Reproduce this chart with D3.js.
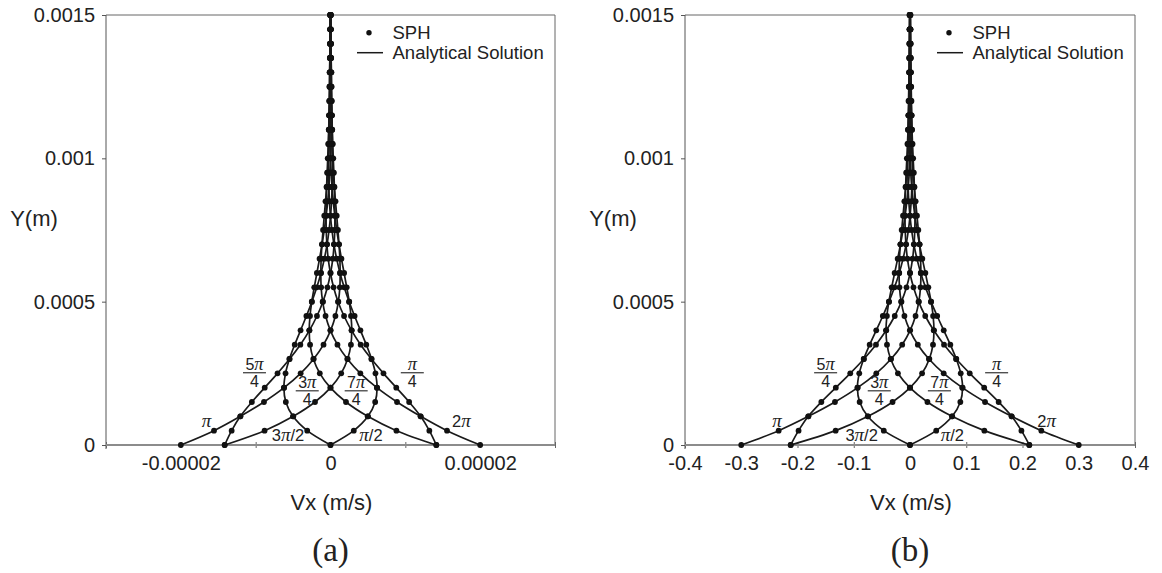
<!DOCTYPE html>
<html><head><meta charset="utf-8">
<script src="https://cdn.jsdelivr.net/npm/d3@7"></script>
<style>body{margin:0;background:#fff}svg{display:block}</style>
</head><body>
<script>
// ---------- DATA ----------
// wall-normal positions of the SPH particles (m)
const yValues = [0,0.00005,0.0001,0.00015,0.0002,0.00025,0.0003,0.00035,0.0004,0.00045,0.0005,0.00055,0.0006,0.00065,0.0007,0.00075,0.0008,0.00085,0.0009,0.00095,0.001,0.00105,0.0011,0.00115,0.0012,0.00125,0.0013,0.00135,0.0014,0.00145,0.0015];

const phaseNames = ["π/4","π/2","3π/4","π","5π/4","3π/2","7π/4","2π"];

// panel (b) Vx (m/s)
const vxB_pi4  = [0.2121,0.1981,0.1808,0.1576,0.1319,0.1062,0.0820,0.0605,0.0422,0.0271,0.0152,0.0062,-0.0002,-0.0046,-0.0072,-0.0085,-0.0089,-0.0085,-0.0078,-0.0068,-0.0056,-0.0045,-0.0035,-0.0026,-0.0018,-0.0011,-0.0006,-0.0003,0.0000,0.0002,0.0003];
const vxB_pi2  = [0,0.0466,0.0751,0.0895,0.0935,0.0902,0.0823,0.0717,0.0600,0.0483,0.0373,0.0275,0.0191,0.0123,0.0069,0.0028,-0.0001,-0.0021,-0.0033,-0.0039,-0.0040,-0.0039,-0.0035,-0.0031,-0.0026,-0.0021,-0.0016,-0.0012,-0.0008,-0.0005,-0.0003];
const vxB_3pi4 = [-0.2121,-0.1322,-0.0746,-0.0310,0.0003,0.0215,0.0344,0.0409,0.0426,0.0411,0.0375,0.0326,0.0273,0.0219,0.0169,0.0125,0.0087,0.0056,0.0031,0.0013,-0.0001,-0.0010,-0.0015,-0.0018,-0.0018,-0.0018,-0.0016,-0.0014,-0.0012,-0.0009,-0.0007];
const vxB_pi   = [-0.3,-0.2335,-0.1806,-0.1334,-0.0930,-0.0599,-0.0337,-0.0139,0.0003,0.0099,0.0157,0.0187,0.0194,0.0187,0.0171,0.0148,0.0124,0.0100,0.0077,0.0057,0.0039,0.0025,0.0014,0.0006,0.0000,-0.0004,-0.0007,-0.0008,-0.0008,-0.0008,-0.0007];
const vxB_5pi4 = [-0.2121,-0.1981,-0.1808,-0.1576,-0.1319,-0.1062,-0.0820,-0.0605,-0.0422,-0.0271,-0.0152,-0.0062,0.0002,0.0046,0.0072,0.0085,0.0089,0.0085,0.0078,0.0068,0.0056,0.0045,0.0035,0.0026,0.0018,0.0011,0.0006,0.0003,0.0000,-0.0002,-0.0003];
const vxB_3pi2 = [0,-0.0466,-0.0751,-0.0895,-0.0935,-0.0902,-0.0823,-0.0717,-0.0600,-0.0483,-0.0373,-0.0275,-0.0191,-0.0123,-0.0069,-0.0028,0.0001,0.0021,0.0033,0.0039,0.0040,0.0039,0.0035,0.0031,0.0026,0.0021,0.0016,0.0012,0.0008,0.0005,0.0003];
const vxB_7pi4 = [0.2121,0.1322,0.0746,0.0310,-0.0003,-0.0215,-0.0344,-0.0409,-0.0426,-0.0411,-0.0375,-0.0326,-0.0273,-0.0219,-0.0169,-0.0125,-0.0087,-0.0056,-0.0031,-0.0013,0.0001,0.0010,0.0015,0.0018,0.0018,0.0018,0.0016,0.0014,0.0012,0.0009,0.0007];
const vxB_2pi  = [0.3,0.2335,0.1806,0.1334,0.0930,0.0599,0.0337,0.0139,-0.0003,-0.0099,-0.0157,-0.0187,-0.0194,-0.0187,-0.0171,-0.0148,-0.0124,-0.0100,-0.0077,-0.0057,-0.0039,-0.0025,-0.0014,-0.0006,0.0000,0.0004,0.0007,0.0008,0.0008,0.0008,0.0007];

// panel (a) Vx (m/s)
const vxA_pi4  = [14.14e-6,13.21e-6,12.05e-6,10.51e-6,8.79e-6,7.08e-6,5.47e-6,4.03e-6,2.81e-6,1.81e-6,1.01e-6,0.41e-6,-0.01e-6,-0.31e-6,-0.48e-6,-0.57e-6,-0.59e-6,-0.57e-6,-0.52e-6,-0.45e-6,-0.37e-6,-0.30e-6,-0.23e-6,-0.17e-6,-0.12e-6,-0.07e-6,-0.04e-6,-0.02e-6,0,0.01e-6,0.02e-6];
const vxA_pi2  = [0,3.11e-6,5.01e-6,5.97e-6,6.23e-6,6.01e-6,5.49e-6,4.78e-6,4.00e-6,3.22e-6,2.49e-6,1.83e-6,1.27e-6,0.82e-6,0.46e-6,0.19e-6,-0.01e-6,-0.14e-6,-0.22e-6,-0.26e-6,-0.27e-6,-0.26e-6,-0.23e-6,-0.21e-6,-0.17e-6,-0.14e-6,-0.11e-6,-0.08e-6,-0.05e-6,-0.03e-6,-0.02e-6];
const vxA_3pi4 = [-14.14e-6,-8.81e-6,-4.97e-6,-2.07e-6,0.02e-6,1.43e-6,2.29e-6,2.73e-6,2.84e-6,2.74e-6,2.50e-6,2.17e-6,1.82e-6,1.46e-6,1.13e-6,0.83e-6,0.58e-6,0.37e-6,0.21e-6,0.09e-6,-0.01e-6,-0.07e-6,-0.10e-6,-0.12e-6,-0.12e-6,-0.12e-6,-0.11e-6,-0.09e-6,-0.08e-6,-0.06e-6,-0.05e-6];
const vxA_pi   = [-20.00e-6,-15.57e-6,-12.04e-6,-8.89e-6,-6.20e-6,-3.99e-6,-2.25e-6,-0.93e-6,0.02e-6,0.66e-6,1.05e-6,1.25e-6,1.29e-6,1.25e-6,1.14e-6,0.99e-6,0.83e-6,0.67e-6,0.51e-6,0.38e-6,0.26e-6,0.17e-6,0.09e-6,0.04e-6,0,-0.03e-6,-0.05e-6,-0.05e-6,-0.05e-6,-0.05e-6,-0.05e-6];
const vxA_5pi4 = [-14.14e-6,-13.21e-6,-12.05e-6,-10.51e-6,-8.79e-6,-7.08e-6,-5.47e-6,-4.03e-6,-2.81e-6,-1.81e-6,-1.01e-6,-0.41e-6,0.01e-6,0.31e-6,0.48e-6,0.57e-6,0.59e-6,0.57e-6,0.52e-6,0.45e-6,0.37e-6,0.30e-6,0.23e-6,0.17e-6,0.12e-6,0.07e-6,0.04e-6,0.02e-6,0,-0.01e-6,-0.02e-6];
const vxA_3pi2 = [0,-3.11e-6,-5.01e-6,-5.97e-6,-6.23e-6,-6.01e-6,-5.49e-6,-4.78e-6,-4.00e-6,-3.22e-6,-2.49e-6,-1.83e-6,-1.27e-6,-0.82e-6,-0.46e-6,-0.19e-6,0.01e-6,0.14e-6,0.22e-6,0.26e-6,0.27e-6,0.26e-6,0.23e-6,0.21e-6,0.17e-6,0.14e-6,0.11e-6,0.08e-6,0.05e-6,0.03e-6,0.02e-6];
const vxA_7pi4 = [14.14e-6,8.81e-6,4.97e-6,2.07e-6,-0.02e-6,-1.43e-6,-2.29e-6,-2.73e-6,-2.84e-6,-2.74e-6,-2.50e-6,-2.17e-6,-1.82e-6,-1.46e-6,-1.13e-6,-0.83e-6,-0.58e-6,-0.37e-6,-0.21e-6,-0.09e-6,0.01e-6,0.07e-6,0.10e-6,0.12e-6,0.12e-6,0.12e-6,0.11e-6,0.09e-6,0.08e-6,0.06e-6,0.05e-6];
const vxA_2pi  = [20.00e-6,15.57e-6,12.04e-6,8.89e-6,6.20e-6,3.99e-6,2.25e-6,0.93e-6,-0.02e-6,-0.66e-6,-1.05e-6,-1.25e-6,-1.29e-6,-1.25e-6,-1.14e-6,-0.99e-6,-0.83e-6,-0.67e-6,-0.51e-6,-0.38e-6,-0.26e-6,-0.17e-6,-0.09e-6,-0.04e-6,0,0.03e-6,0.05e-6,0.05e-6,0.05e-6,0.05e-6,0.05e-6];

// ticks
const yTickVals = [0,0.0005,0.001,0.0015];
const yTickLabels = ["0","0.0005","0.001","0.0015"];
const xTicksA = [-0.00003,-0.00002,-0.00001,0,0.00001,0.00002,0.00003];
const xLabelValsA = [-0.00002,0,0.00002];
const xLabelsA = ["-0.00002","0","0.00002"];
const xTicksB = [-0.4,-0.3,-0.2,-0.1,0,0.1,0.2,0.3,0.4];
const xLabelsB = ["-0.4","-0.3","-0.2","-0.1","0","0.1","0.2","0.3","0.4"];

// phase annotations (data coordinates)
const annotA = [
  {num:"5π",den:"4",x:-1.016e-5,y:0.000252},
  {num:"3π",den:"4",x:-0.311e-5,y:0.000189},
  {num:"7π",den:"4",x:0.343e-5,y:0.000189},
  {num:"π",den:"4",x:1.093e-5,y:0.000252},
  {txt:"π",x:-1.657e-5,y:0.000064},
  {txt:"2π",x:1.75e-5,y:0.000064},
  {txt:"3π/2",x:-0.568e-5,y:0.000013},
  {txt:"π/2",x:0.541e-5,y:0.000013}
];
const annotB = [
  {num:"5π",den:"4",x:-0.150,y:0.000252},
  {num:"3π",den:"4",x:-0.0547,y:0.000189},
  {num:"7π",den:"4",x:0.0522,y:0.000189},
  {num:"π",den:"4",x:0.154,y:0.000252},
  {txt:"π",x:-0.2365,y:0.000064},
  {txt:"2π",x:0.243,y:0.000064},
  {txt:"3π/2",x:-0.086,y:0.000013},
  {txt:"π/2",x:0.0754,y:0.000013}
];

// ---------- DRAWING ----------
const W = 1162, H = 573;
const svg = d3.select("body").append("svg").attr("width", W).attr("height", H);
const SANS = "'Liberation Sans', Arial, sans-serif";
const SERIF = "'Liberation Serif', 'Times New Roman', serif";
const INK = "#1a1a1a";

function rich(sel, str) {
  for (const ch of str) {
    const t = sel.append("tspan").text(ch);
    if (ch === "π") t.attr("font-family", SERIF).attr("font-style", "italic").attr("font-size", "1.15em");
  }
}

function drawPanel(p) {
  const g = svg.append("g");
  const x = d3.scaleLinear().domain(p.xDomain).range([p.left, p.right]);
  const y = d3.scaleLinear().domain([0, 0.0015]).range([445, 15]);

  // frame (top & right)
  g.append("path")
    .attr("d", `M${p.left},${y(0.0015)}H${p.right}V${y(0)}`)
    .attr("fill", "none").attr("stroke", "#666").attr("stroke-width", 1);

  // y axis
  const yg = g.append("g").attr("transform", `translate(${p.left},0)`)
    .call(d3.axisLeft(y).tickValues(yTickVals).tickFormat((d, i) => yTickLabels[i]).tickSize(4).tickPadding(7));
  yg.select(".domain").remove();
  yg.selectAll(".tick line").attr("stroke", "#555");
  yg.selectAll("text").attr("font-size", 20).attr("font-family", SANS).attr("fill", "#222");
  g.append("line").attr("x1", p.left).attr("x2", p.left).attr("y1", y(0.0015)).attr("y2", y(0) + 4)
    .attr("stroke", "#555").attr("stroke-width", 1);

  // x axis
  const xg = g.append("g").attr("transform", `translate(0,${y(0)})`)
    .call(d3.axisBottom(x).tickValues(p.xTicks).tickSize(3).tickPadding(8)
      .tickFormat(d => { const k = p.xLabelVals.findIndex(v => Math.abs(v - d) < 1e-12); return k >= 0 ? p.xLabels[k] : ""; }));
  xg.select(".domain").remove();
  xg.selectAll(".tick line").attr("y1", -3).attr("y2", 3).attr("stroke", "#666");
  xg.selectAll("text").attr("font-size", 20).attr("font-family", SANS).attr("fill", "#222");
  g.append("line").attr("x1", p.left).attr("x2", p.right).attr("y1", y(0)).attr("y2", y(0))
    .attr("stroke", "#8c8c8c").attr("stroke-width", 1.8);

  // curves
  const line = d3.line().x(d => x(d[0])).y(d => y(d[1])).curve(d3.curveCatmullRom.alpha(0.5));
  p.series.forEach(s => {
    const pts = s.map((v, i) => [v, yValues[i]]);
    g.append("path").attr("d", line(pts)).attr("fill", "none").attr("stroke", INK).attr("stroke-width", 1.7);
  });
  p.series.forEach(s => {
    g.append("g").selectAll("circle").data(s.map((v, i) => [v, yValues[i]])).join("circle")
      .attr("cx", d => x(d[0])).attr("cy", d => y(d[1])).attr("r", 2.9).attr("fill", "#111");
  });

  // phase annotations
  p.annot.forEach(a => {
    const cx = x(a.x), cy = y(a.y);
    if (a.num) {
      const t1 = g.append("text").attr("x", cx).attr("y", cy - 2.5).attr("text-anchor", "middle")
        .attr("font-size", 16).attr("font-family", SANS).attr("fill", "#222");
      rich(t1, a.num);
      g.append("line").attr("x1", cx - 11.5).attr("x2", cx + 11.5).attr("y1", cy).attr("y2", cy)
        .attr("stroke", "#222").attr("stroke-width", 1.1);
      g.append("text").attr("x", cx).attr("y", cy + 14.5).attr("text-anchor", "middle")
        .attr("font-size", 16).attr("font-family", SANS).attr("fill", "#222").text(a.den);
    } else {
      const t = g.append("text").attr("x", cx).attr("y", cy).attr("text-anchor", "middle")
        .attr("font-size", 16.5).attr("font-family", SANS).attr("fill", "#222");
      rich(t, a.txt);
    }
  });

  // legend
  const lx = p.right - 162.5;
  g.append("circle").attr("cx", p.right - 186).attr("cy", 32.7).attr("r", 2.7).attr("fill", "#111");
  g.append("line").attr("x1", p.right - 198).attr("x2", p.right - 172).attr("y1", 52.7).attr("y2", 52.7)
    .attr("stroke", INK).attr("stroke-width", 1.5);
  g.append("text").attr("x", lx).attr("y", 38.5).attr("font-size", 18.5).attr("font-family", SANS).attr("fill", "#222").text("SPH");
  g.append("text").attr("x", lx).attr("y", 59).attr("font-size", 18.5).attr("font-family", SANS).attr("fill", "#222").text("Analytical Solution");

  // axis titles
  g.append("text").attr("x", p.yTitleX).attr("y", 226).attr("text-anchor", "middle")
    .attr("font-size", 22).attr("font-family", SANS).attr("fill", "#222").text("Y(m)");
  g.append("text").attr("x", x(0) + 1).attr("y", 510).attr("text-anchor", "middle")
    .attr("font-size", 22).attr("font-family", SANS).attr("fill", "#222").text("Vx (m/s)");
  g.append("text").attr("x", x(0)).attr("y", 561).attr("text-anchor", "middle")
    .attr("font-size", 33).attr("font-family", SERIF).attr("fill", "#222").text(p.tag);
}

drawPanel({
  left: 106, right: 555, xDomain: [-0.00003, 0.00003],
  xTicks: xTicksA, xLabelVals: xLabelValsA, xLabels: xLabelsA,
  series: [vxA_pi4, vxA_pi2, vxA_3pi4, vxA_pi, vxA_5pi4, vxA_3pi2, vxA_7pi4, vxA_2pi],
  annot: annotA, yTitleX: 34, tag: "(a)"
});
drawPanel({
  left: 685, right: 1135, xDomain: [-0.4, 0.4],
  xTicks: xTicksB, xLabelVals: xTicksB, xLabels: xLabelsB,
  series: [vxB_pi4, vxB_pi2, vxB_3pi4, vxB_pi, vxB_5pi4, vxB_3pi2, vxB_7pi4, vxB_2pi],
  annot: annotB, yTitleX: 613, tag: "(b)"
});
</script>
</body></html>
